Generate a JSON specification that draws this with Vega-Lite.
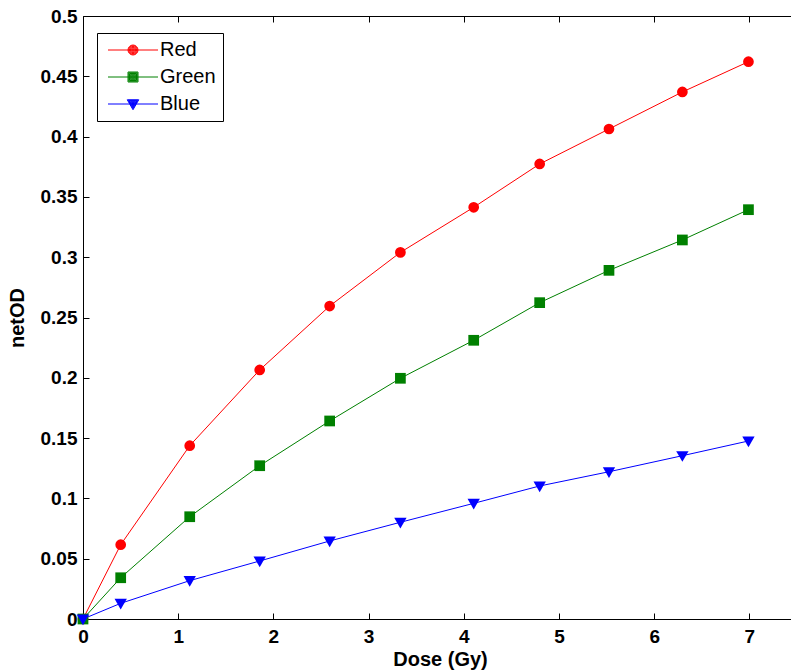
{
  "$schema": "https://vega.github.io/schema/vega-lite/v6.json",
  "autosize": {"type": "none"},
  "padding": {"left": 83, "top": 16, "right": 0, "bottom": 53},
  "width": 714,
  "height": 603,
  "background": "white",
  "config": {
    "view": {"stroke": null},
    "axis": {
      "grid": false,
      "domainColor": "black",
      "tickColor": "black",
      "labelColor": "black",
      "titleColor": "black",
      "labelFont": "Liberation Sans",
      "titleFont": "Liberation Sans",
      "labelFontWeight": "bold",
      "titleFontWeight": "bold",
      "labelFontSize": 19,
      "titleFontSize": 20,
      "tickSize": -6,
      "labelFlush": false,
      "labelOverlap": false,
      "labelBound": false
    },
    "legend": {
      "orient": "none", "legendX": 14, "legendY": 17,
      "strokeColor": "black",
      "fillColor": "white",
      "padding": 7,
      "labelFont": "Liberation Sans",
      "labelFontSize": 20,
      "labelColor": "black",
      "symbolSize": 100,
      "symbolOffset": 19,
      "labelOffset": 17,
      "rowPadding": 7,
      "symbolOpacity": 1,
      "symbolStrokeWidth": 1
    }
  },
  "data": {
    "values": [
      {"dose": 0, "netOD": 0, "channel": "Red"},
      {"dose": 0.396, "netOD": 0.0616, "channel": "Red"},
      {"dose": 1.121, "netOD": 0.1437, "channel": "Red"},
      {"dose": 1.856, "netOD": 0.2065, "channel": "Red"},
      {"dose": 2.591, "netOD": 0.2595, "channel": "Red"},
      {"dose": 3.334, "netOD": 0.304, "channel": "Red"},
      {"dose": 4.104, "netOD": 0.3414, "channel": "Red"},
      {"dose": 4.797, "netOD": 0.3773, "channel": "Red"},
      {"dose": 5.525, "netOD": 0.4063, "channel": "Red"},
      {"dose": 6.296, "netOD": 0.437, "channel": "Red"},
      {"dose": 6.99, "netOD": 0.4621, "channel": "Red"},
      {"dose": 0, "netOD": 0, "channel": "Green"},
      {"dose": 0.396, "netOD": 0.0342, "channel": "Green"},
      {"dose": 1.121, "netOD": 0.0848, "channel": "Green"},
      {"dose": 1.856, "netOD": 0.1271, "channel": "Green"},
      {"dose": 2.591, "netOD": 0.1642, "channel": "Green"},
      {"dose": 3.334, "netOD": 0.1996, "channel": "Green"},
      {"dose": 4.104, "netOD": 0.2311, "channel": "Green"},
      {"dose": 4.797, "netOD": 0.2623, "channel": "Green"},
      {"dose": 5.525, "netOD": 0.2891, "channel": "Green"},
      {"dose": 6.296, "netOD": 0.3143, "channel": "Green"},
      {"dose": 6.99, "netOD": 0.3394, "channel": "Green"},
      {"dose": 0, "netOD": 0, "channel": "Blue"},
      {"dose": 0.396, "netOD": 0.013, "channel": "Blue"},
      {"dose": 1.121, "netOD": 0.0318, "channel": "Blue"},
      {"dose": 1.856, "netOD": 0.0481, "channel": "Blue"},
      {"dose": 2.591, "netOD": 0.0647, "channel": "Blue"},
      {"dose": 3.334, "netOD": 0.0802, "channel": "Blue"},
      {"dose": 4.104, "netOD": 0.0959, "channel": "Blue"},
      {"dose": 4.797, "netOD": 0.1103, "channel": "Blue"},
      {"dose": 5.525, "netOD": 0.1221, "channel": "Blue"},
      {"dose": 6.296, "netOD": 0.1354, "channel": "Blue"},
      {"dose": 6.99, "netOD": 0.1476, "channel": "Blue"}
    ]
  },
  "layer": [
    {
      "mark": {"type": "line", "strokeWidth": 1},
      "encoding": {
        "x": {
          "field": "dose", "type": "quantitative",
          "scale": {"domain": [0, 7.5], "nice": false, "zero": false},
          "axis": {"orient": "bottom", "values": [0, 1, 2, 3, 4, 5, 6, 7], "format": "d", "title": "Dose (Gy)", "labelPadding": 14, "titlePadding": 3}
        },
        "y": {
          "field": "netOD", "type": "quantitative",
          "scale": {"domain": [0, 0.5], "nice": false, "zero": false},
          "axis": {"orient": "left", "values": [0, 0.05, 0.1, 0.15, 0.2, 0.25, 0.3, 0.35, 0.4, 0.45, 0.5], "format": ".2~f", "title": "netOD", "labelPadding": 12, "titlePadding": 13}
        },
        "color": {
          "field": "channel", "type": "nominal",
          "scale": {"domain": ["Red", "Green", "Blue"], "range": ["#ff0000", "#008000", "#0000ff"]},
          "legend": {"title": null}
        },
        "detail": {"field": "channel"}
      }
    },
    {
      "transform": [{"filter": {"field": "channel", "equal": "Red"}}],
      "mark": {"type": "point", "filled": true, "opacity": 1, "shape": "circle", "color": "#ff0000", "size": 115},
      "encoding": {
        "x": {
          "field": "dose", "type": "quantitative",
          "axis": {"orient": "top", "values": [0, 1, 2, 3, 4, 5, 6, 7], "labels": false, "title": null}
        },
        "y": {
          "field": "netOD", "type": "quantitative",
          "axis": {"orient": "right", "values": [0, 0.05, 0.1, 0.15, 0.2, 0.25, 0.3, 0.35, 0.4, 0.45, 0.5], "labels": false, "title": null}
        }
      }
    },
    {
      "transform": [{"filter": {"field": "channel", "equal": "Green"}}],
      "mark": {"type": "point", "filled": true, "opacity": 1, "shape": "square", "color": "#008000", "size": 115},
      "encoding": {
        "x": {"field": "dose", "type": "quantitative", "axis": null},
        "y": {"field": "netOD", "type": "quantitative", "axis": null}
      }
    },
    {
      "transform": [{"filter": {"field": "channel", "equal": "Blue"}}],
      "mark": {"type": "point", "filled": true, "opacity": 1, "shape": "M-1.15,-0.85L1.15,-0.85L0,1.15Z", "color": "#0000ff", "size": 115},
      "encoding": {
        "x": {"field": "dose", "type": "quantitative", "axis": null},
        "y": {"field": "netOD", "type": "quantitative", "axis": null}
      }
    },
    {
      "mark": {"type": "point", "filled": false, "opacity": 0, "strokeWidth": 1},
      "encoding": {
        "x": {"field": "dose", "type": "quantitative", "axis": null},
        "y": {"field": "netOD", "type": "quantitative", "axis": null},
        "color": {
          "field": "channel", "type": "nominal",
          "scale": {"domain": ["Red", "Green", "Blue"], "range": ["#ff0000", "#008000", "#0000ff"]},
          "legend": {"title": null}
        },
        "shape": {
          "field": "channel", "type": "nominal",
          "scale": {"domain": ["Red", "Green", "Blue"], "range": [
            "M-5,0L5,0M1,0A1,1,0,1,1,-1,0A1,1,0,1,1,1,0M0.85,0A0.85,0.85,0,1,1,-0.85,0A0.85,0.85,0,1,1,0.85,0M0.7,0A0.7,0.7,0,1,1,-0.7,0A0.7,0.7,0,1,1,0.7,0M0.55,0A0.55,0.55,0,1,1,-0.55,0A0.55,0.55,0,1,1,0.55,0M0.4,0A0.4,0.4,0,1,1,-0.4,0A0.4,0.4,0,1,1,0.4,0M0.25,0A0.25,0.25,0,1,1,-0.25,0A0.25,0.25,0,1,1,0.25,0M0.1,0A0.1,0.1,0,1,1,-0.1,0A0.1,0.1,0,1,1,0.1,0",
            "M-5,0L5,0M-1,-1L1,-1L1,1L-1,1ZM-0.85,-0.85L0.85,-0.85L0.85,0.85L-0.85,0.85ZM-0.7,-0.7L0.7,-0.7L0.7,0.7L-0.7,0.7ZM-0.55,-0.55L0.55,-0.55L0.55,0.55L-0.55,0.55ZM-0.4,-0.4L0.4,-0.4L0.4,0.4L-0.4,0.4ZM-0.25,-0.25L0.25,-0.25L0.25,0.25L-0.25,0.25ZM-0.1,-0.1L0.1,-0.1L0.1,0.1L-0.1,0.1Z",
            "M-5,0L5,0M-1.15,-0.85L1.15,-0.85L0,1.15ZM-0.95,-0.72L0.95,-0.72L0,0.93ZM-0.75,-0.58L0.75,-0.58L0,0.72ZM-0.55,-0.45L0.55,-0.45L0,0.5ZM-0.35,-0.32L0.35,-0.32L0,0.28ZM-0.15,-0.2L0.15,-0.2L0,0.06Z"
          ]},
          "legend": {"title": null}
        },
        "size": {"value": 100}
      }
    }
  ],
  "resolve": {"axis": {"x": "independent", "y": "independent"}}
}
